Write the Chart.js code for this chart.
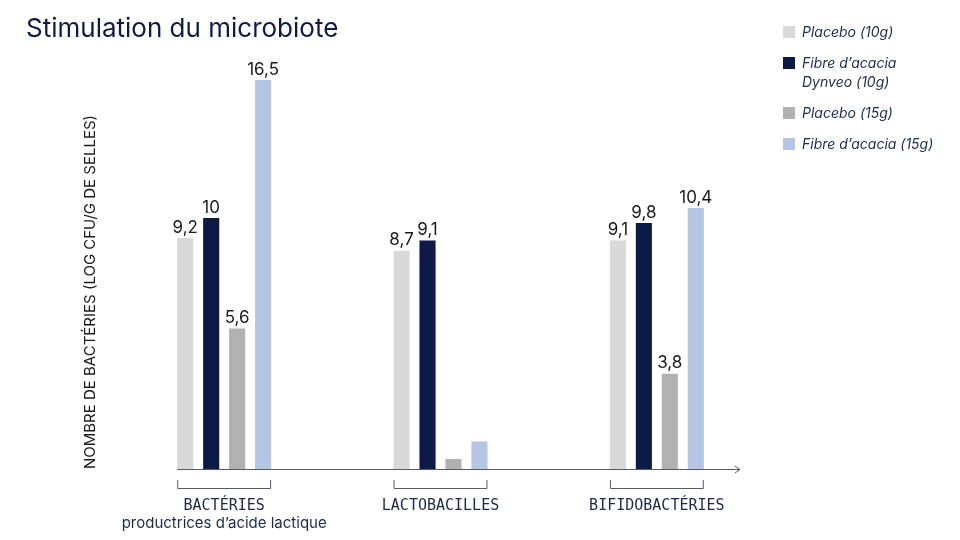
<!DOCTYPE html>
<html><head><meta charset="utf-8">
<script src="https://cdn.jsdelivr.net/npm/chart.js@4"></script>
<style>
body{margin:0;background:#fff;font-family:Inter,sans-serif}
#wrap{position:relative;width:960px;height:540px}
#title{position:absolute;left:26px;top:12px;font-size:26px;color:#0f1b45}
#legend{position:absolute;left:783px;top:22px;font-size:14px;font-style:italic;color:#1c2a55;line-height:19px}
.it{position:relative;padding-left:19px;margin-bottom:12px}
.sw{position:absolute;left:0;top:4px;width:12px;height:12px}
canvas{position:absolute;left:0;top:0}
</style></head><body>
<div id="wrap">
<canvas id="c" width="960" height="540"></canvas>
<div id="title">Stimulation du microbiote</div>
<div id="legend"></div>
</div>
<script>
const categories = [["BACTÉRIES", "productrices d’acide lactique"], ["LACTOBACILLES"], ["BIFIDOBACTÉRIES"]];
const seriesNames = ["Placebo (10g)", "Fibre d’acacia<br>Dynveo (10g)", "Placebo (15g)", "Fibre d’acacia (15g)"];
const placebo10 = [9.2, 8.7, 9.1];
const fibre10 = [10, 9.1, 9.8];
const placebo15 = [5.6, 0.4, 3.8];
const fibre15 = [16.5, 1.1, 10.4];
const showLabel = [[true, true, true], [true, true, true], [true, false, true], [true, false, true]];
const colors = ["#d9d9d9", "#0d1a45", "#b1b1b1", "#b4c6e3"];

const legend = document.getElementById("legend");
seriesNames.forEach((n, i) => {
  legend.innerHTML += `<div class="it"><span class="sw" style="background:${colors[i]}"></span>${n}</div>`;
});

const overlay = {
  id: "overlay",
  afterDatasetsDraw(chart) {
    const ctx = chart.ctx, area = chart.chartArea;
    ctx.save();
    ctx.fillStyle = "#1a1a1a";
    ctx.font = "17px Inter, sans-serif";
    ctx.textAlign = "center";
    ctx.textBaseline = "bottom";
    chart.data.datasets.forEach((ds, di) => {
      chart.getDatasetMeta(di).data.forEach((bar, i) => {
        if (!showLabel[di][i]) return;
        const y = Math.max(bar.y, area.top);
        ctx.fillText(String(ds.data[i]).replace(".", ","), bar.x, y - 2);
      });
    });
    // axis with arrow
    const x0 = chart.getDatasetMeta(0).data[0].x - 8;
    const yb = area.bottom;
    ctx.strokeStyle = "#555a70";
    ctx.lineWidth = 1;
    ctx.beginPath();
    ctx.moveTo(x0, yb + 0.5); ctx.lineTo(740, yb + 0.5);
    ctx.moveTo(735, yb - 3); ctx.lineTo(740, yb + 0.5); ctx.lineTo(735, yb + 4);
    ctx.stroke();
    // brackets and category labels
    ctx.fillStyle = "#1c2a4a";
    ctx.textBaseline = "middle";
    categories.forEach((lab, i) => {
      const l = chart.getDatasetMeta(0).data[i].x - 8;
      const r = chart.getDatasetMeta(3).data[i].x + 8;
      ctx.beginPath();
      ctx.moveTo(l + 0.5, 480); ctx.lineTo(l + 0.5, 488.5); ctx.lineTo(r - 0.5, 488.5); ctx.lineTo(r - 0.5, 480);
      ctx.stroke();
      const cx = (l + r) / 2;
      ctx.font = "15px 'DejaVu Sans Mono', monospace";
      ctx.fillText(lab[0], cx, 506);
      if (lab[1]) {
        ctx.font = "15px Inter, sans-serif";
        ctx.fillText(lab[1], cx, 523);
      }
    });
    // y title
    ctx.translate(90, 292);
    ctx.rotate(-Math.PI / 2);
    ctx.font = "15px Inter, sans-serif";
    ctx.fillStyle = "#1a1a1a";
    ctx.fillText("NOMBRE DE BACTÉRIES (LOG CFU/G DE SELLES)", 0, 0);
    ctx.restore();
  }
};

const ds = [placebo10, fibre10, placebo15, fibre15].map((d, i) => ({
  data: d, backgroundColor: colors[i], categoryPercentage: 0.48, barPercentage: 0.62
}));

new Chart(document.getElementById("c"), {
  type: "bar",
  data: { labels: categories.map(c => c[0]), datasets: ds },
  options: {
    responsive: false,
    animation: false,
    layout: { padding: { left: 116, right: 195, top: 80, bottom: 71 } },
    plugins: { legend: { display: false }, tooltip: { enabled: false } },
    scales: {
      x: { display: false },
      y: { display: false, min: 0, max: 15.5 }
    }
  },
  plugins: [overlay]
});
</script>
</body></html>
